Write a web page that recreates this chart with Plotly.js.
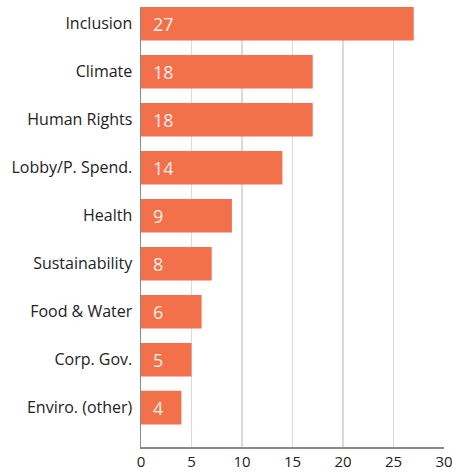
<!DOCTYPE html>
<html>
<head>
<meta charset="utf-8">
<script src="https://cdn.plot.ly/plotly-3.0.1.min.js"></script>
<style>html,body{margin:0;padding:0;background:#fff;}#chart{width:452px;height:472px;}</style>
</head>
<body>
<div id="chart"></div>
<script>
// Categories from bottom to top
const categories = ["Enviro. (other)", "Corp. Gov.", "Food & Water", "Sustainability", "Health", "Lobby/P. Spend.", "Human Rights", "Climate", "Inclusion"];
// Bar lengths as drawn
const barValues = [4, 5, 6, 7, 9, 14, 17, 17, 27];
// Printed labels on the bars
const barLabels = ["4", "5", "6", "8", "9", "14", "18", "18", "27"];
const xTicks = [0, 5, 10, 15, 20, 25, 30];

const trace = {
  type: "bar",
  orientation: "h",
  y: categories,
  x: barValues,
  marker: {color: "#F2704A"},
  width: 0.7,
  hoverinfo: "none"
};

const annotations = categories.map((c, i) => ({
  x: 0,
  y: c,
  xref: "x",
  yref: "y",
  text: barLabels[i],
  showarrow: false,
  xanchor: "left",
  yanchor: "middle",
  xshift: 10,
  yshift: 0,
  font: {family: "Open Sans, sans-serif", size: 18, color: "#fdf1ea"}
}));

const layout = {
  width: 452,
  height: 472,
  margin: {l: 141, r: 8, t: 7, b: 25},
  paper_bgcolor: "#fff",
  plot_bgcolor: "#fff",
  showlegend: false,
  font: {family: "Open Sans, sans-serif", color: "#222"},
  annotations: annotations,
  xaxis: {
    range: [0, 30],
    tickvals: xTicks,
    ticktext: xTicks.map(String),
    showgrid: true,
    gridcolor: "#d9d9d9",
    gridwidth: 1.5,
    zeroline: false,
    showline: true,
    linecolor: "#8a8a8a",
    linewidth: 1.5,
    ticks: "",
    ticklabeloverflow: "allow",
    tickfont: {size: 15, color: "#222"},
    fixedrange: true
  },
  yaxis: {
    type: "category",
    categoryorder: "array",
    categoryarray: categories,
    range: [-0.82, 8.35],
    showgrid: false,
    zeroline: false,
    showline: true,
    linecolor: "#8a8a8a",
    linewidth: 1.5,
    ticks: "",
    ticklabelstandoff: 4,
    tickfont: {size: 16, color: "#222"},
    fixedrange: true
  }
};

Plotly.newPlot("chart", [trace], layout, {displayModeBar: false, staticPlot: true});
</script>
</body>
</html>
